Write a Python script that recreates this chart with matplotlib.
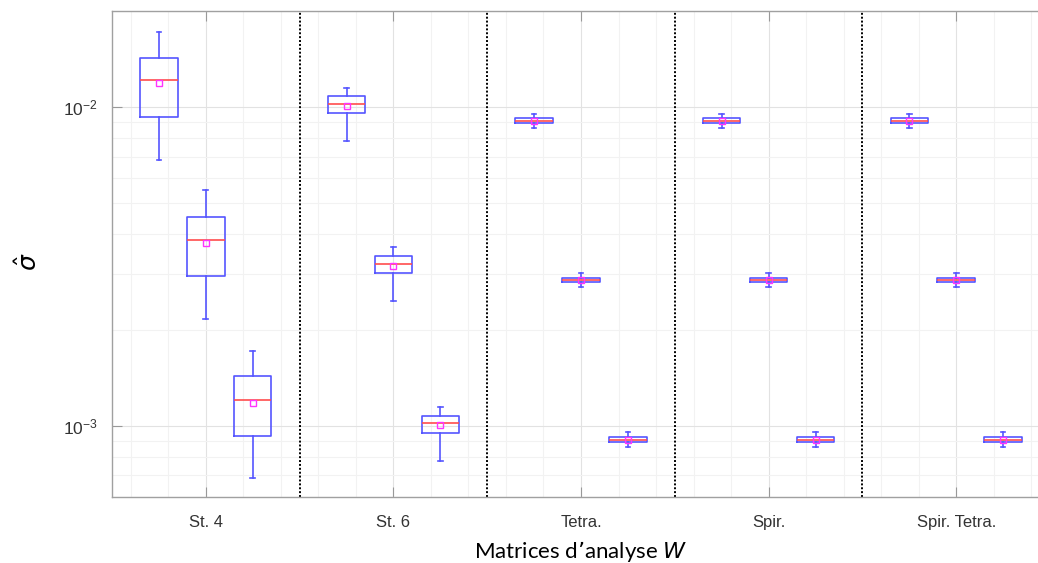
import numpy as np
import matplotlib
matplotlib.use("Agg")
import matplotlib.pyplot as plt
from matplotlib.ticker import LogLocator, FixedLocator, MultipleLocator, NullFormatter

methods = ["St. 4", "St. 6", "Tetra.", "Spir.", "Spir. Tetra."]

# three boxes per method (values of sigma-hat)
whislo = [[0.00683, 0.00217, 0.000685],
          [0.00784, 0.00246, 0.000778],
          [0.00859, 0.00273, 0.000859],
          [0.00859, 0.00273, 0.000859],
          [0.00859, 0.00273, 0.000859]]
q1 = [[0.00934, 0.00296, 0.000932],
      [0.00958, 0.00301, 0.000951],
      [0.00894, 0.00282, 0.000892],
      [0.00894, 0.00282, 0.000892],
      [0.00894, 0.00282, 0.000892]]
med = [[0.01218, 0.00383, 0.00121],
       [0.01022, 0.00323, 0.00102],
       [0.00908, 0.002865, 0.000906],
       [0.00908, 0.002865, 0.000906],
       [0.00908, 0.002865, 0.000906]]
q3 = [[0.01431, 0.00453, 0.00143],
      [0.01085, 0.00341, 0.001075],
      [0.00923, 0.00291, 0.000921],
      [0.00923, 0.00291, 0.000921],
      [0.00923, 0.00291, 0.000921]]
whishi = [[0.01719, 0.00550, 0.00172],
          [0.01152, 0.00364, 0.00115],
          [0.00955, 0.003013, 0.000955],
          [0.00955, 0.003013, 0.000955],
          [0.00955, 0.003013, 0.000955]]
means = [[0.01190, 0.00375, 0.00118],
         [0.01009, 0.00318, 0.001005],
         [0.00908, 0.002865, 0.000906],
         [0.00908, 0.002865, 0.000906],
         [0.00908, 0.002865, 0.000906]]

offsets = [-0.25, 0.0, 0.25]

stats, positions = [], []
for g in range(len(methods)):
    for k in range(3):
        stats.append(dict(whislo=whislo[g][k], q1=q1[g][k], med=med[g][k],
                          q3=q3[g][k], whishi=whishi[g][k], mean=means[g][k],
                          fliers=[]))
        positions.append(g + 1 + offsets[k])

fig = plt.figure(figsize=(10.38, 5.63), dpi=100)
ax = fig.add_axes([112 / 1038, 1 - 497.3 / 563, 938 / 1038, 486.3 / 563])

blue = "#5555ff"
ax.bxp(stats, positions=positions, widths=0.2, capwidths=0.025,
       showmeans=True, showfliers=False, patch_artist=False,
       boxprops=dict(color=blue, linewidth=1.2),
       whiskerprops=dict(color=blue, linewidth=1.2),
       capprops=dict(color=blue, linewidth=1.2),
       medianprops=dict(color="#ff4d4d", linewidth=1.2),
       meanprops=dict(marker="s", markersize=5, markerfacecolor="none",
                      markeredgecolor="#ff33ff", markeredgewidth=1.0))

ax.set_yscale("log")
ax.set_ylim(0.000597, 0.02006)
ax.set_xlim(0.5, 5.5)

for g in range(len(methods) - 1):
    ax.axvline(g + 1.5, color="black", linestyle=(0, (1, 1)), linewidth=1.4, zorder=1)

ax.xaxis.set_major_locator(FixedLocator(np.arange(1, len(methods) + 1)))
ax.set_xticklabels(methods, fontsize=12, color="#333333", family="Liberation Sans")
ax.xaxis.set_minor_locator(MultipleLocator(0.2))

ax.yaxis.set_major_locator(FixedLocator([1e-3, 1e-2]))
ax.set_yticklabels([r"$\mathregular{10^{-3}}$", r"$\mathregular{10^{-2}}$"],
                   fontsize=12.5, color="#333333", family="Liberation Sans")
ax.yaxis.set_minor_locator(LogLocator(base=10, subs=np.arange(2, 10)))
ax.yaxis.set_minor_formatter(NullFormatter())

ax.grid(True, which="major", color="#e2e2e2", linewidth=0.8)
ax.grid(True, which="minor", color="#f2f2f2", linewidth=0.8)
ax.set_axisbelow(True)

ax.tick_params(which="major", direction="in", length=7, color="#999999",
               top=True, right=True)
ax.tick_params(axis="x", which="major", pad=13)
ax.tick_params(axis="y", which="major", pad=10)
ax.tick_params(which="minor", length=0, top=True, right=True)
for s in ax.spines.values():
    s.set_color("#a0a0a0")
    s.set_linewidth(1.0)

ax.set_xlabel(r"Matrices d’analyse $\mathit{W}$", fontsize=16, family="Lato",
              labelpad=6)
ax.set_ylabel(r"$\hat{\sigma}$", fontsize=18)
ax.yaxis.set_label_coords(-0.075, 0.485)

fig.savefig("out.png", dpi=100)
